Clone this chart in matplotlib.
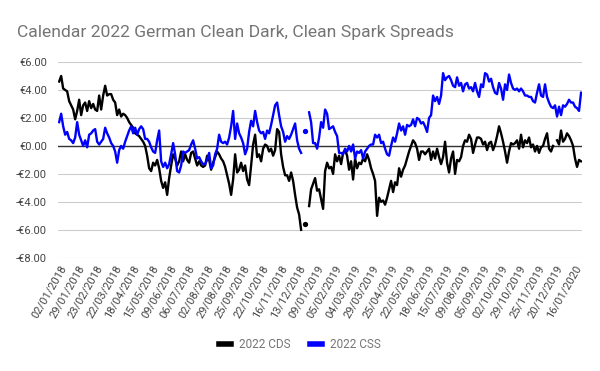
import numpy as np
import matplotlib
matplotlib.use('Agg')
import matplotlib.pyplot as plt
from matplotlib.lines import Line2D

plt.rcParams['font.family'] = ['Roboto', 'DejaVu Sans']

nan = np.nan

# trading-day axis: 540 days, a label every 19 days
n_days = 540
tick_step = 19
tick_labels = ['02/01/2018', '29/01/2018', '23/02/2018', '22/03/2018', '18/04/2018',
               '15/05/2018', '09/06/2018', '06/07/2018', '02/08/2018', '29/08/2018',
               '25/09/2018', '22/10/2018', '16/11/2018', '13/12/2018', '09/01/2019',
               '05/02/2019', '04/03/2019', '29/03/2019', '25/04/2019', '22/05/2019',
               '18/06/2019', '15/07/2019', '09/08/2019', '05/09/2019', '02/10/2019',
               '29/10/2019', '25/11/2019', '20/12/2019', '16/01/2020']

# 2022 clean dark spread (EUR/MWh), sampled about every 2 trading days
cds = [4.6, 5.0, 4.1, 4.0, 3.9, 3.2, 2.9, 2.6, 1.9, 2.5, 3.3, 2.2, 2.9, 3.1, 2.5, 3.2,
       2.7, 3.0, 2.6, 2.5, 3.6, 2.6, 3.6, 4.3, 3.6, 3.7, 3.7, 3.3, 3.1, 2.2, 2.6, 2.1,
       2.3, 2.2, 2.0, 1.7, 1.5, 1.3, 0.9, 0.8, 0.7, 0.5, 0.3, 0.0, -0.7, -1.6,
       -1.8, -1.2, -1.4, -1.0, -1.6, -2.5, -3.0, -2.6, -3.5, -2.3, -1.4, -0.6, -0.9, -1.4, -1.1,
       -0.4, -1.1, -0.6, -1.0, -1.2, -0.5, -0.4, -0.9, -1.4, -1.1, -1.4, -1.5, -1.4, -0.7, -1.0,
       -1.7, -1.2, -0.8, -0.4, -0.6, -0.9, -1.1, -1.5, -2.1, -2.7, -3.5, -2.4, -0.6, -1.9, -1.7,
       -1.2, -1.8, -1.4, -2.4, -2.8, -1.4, 0.1, 0.8, -0.8, -0.6, -1.1, -0.2, 0.1, 0.0, -0.4,
       -0.2, -0.7, -0.3, 1.2, 1.0, -0.6, -1.5, -2.1, -2.1, -2.5, -1.9, -2.5, -3.5, -4.4, -4.9,
       -6.0, nan, -5.6, nan, -4.3, -3.1, -2.7, -2.3, -3.2, -3.1, -3.8, -4.5, -1.8, -1.2, -1.6,
       -1.5, -2.0, -0.6, -1.1, -0.7, -1.3, -0.5, -0.3, -0.7, -1.7, -1.1, -2.4, -0.9, -1.6, -1.2,
       -1.3, -0.9, -1.1, -0.6, -1.0, -1.6, -2.0, -2.5, -5.0, -3.7, -4.0, -3.9, -4.2, -3.7, -3.1,
       -2.5, -3.3, -2.6, -2.8, -1.6, -2.2, -1.7, -1.4, -0.9, -0.4, 0.0, 0.4, 0.2, -0.2, -1.0,
       -0.4, -0.4, -0.6, -0.4, -0.2, -1.0, -0.4, -0.9, -0.2, -0.8, -1.3, -0.8, 0.3, -1.2, -1.9,
       -0.9, -0.4, -2.0, -1.0, -1.1, -0.8, 0.0, 0.4, 0.3, 0.8, 0.5, -0.5, 0.1, 0.6, 0.6,
       0.5, 0.1, 0.3, -0.3, 0.2, 0.3, -0.3, 0.1, 0.7, 1.4, 0.9, 0.3, -0.4, -1.2, -0.4,
       0.2, 0.1, 0.2, 0.4, -0.2, 0.8, -0.1, 0.4, 0.2, 0.6, -0.1, 0.1, -0.4, 0.0, -0.5,
       -0.1, 0.0, 0.5, 0.9, -0.2, -0.4, 0.0, nan, 0.4, 0.1, 1.1, 0.3, 0.5, 0.9, 0.7,
       0.4, 0.0, -0.9, -1.5, -1.0, -1.1]

# 2022 clean spark spread (EUR/MWh)
css = [1.7, 2.3, 1.4, 0.8, 1.0, 0.5, 0.4, 0.2, 0.6, 1.7, 0.8, 0.4, 0.0, 0.4, -0.1, 0.8,
       0.9, 1.1, 1.2, 0.3, 0.1, 0.3, 0.5, 1.3, 0.9, 0.6, 0.2, 0.0, -0.4, -1.2, -0.3, 0.0,
       -0.2, 0.3, 0.7, 1.1, 1.4, 0.9, 1.3, 0.8, 1.2, 1.4, 1.2, 0.5, 0.5, 0.3,
       -0.1, -0.4, -0.5, 0.4, 1.1, -1.1, -1.5, -1.2, -1.6, -1.3, -0.6, 0.2, -0.6, -1.8, -1.9,
       -1.4, -0.4, -0.5, -0.4, -0.3, 0.1, 0.4, -0.2, -0.9, -0.8, -1.1, -1.3, -1.3, -1.0, -0.5,
       -1.6, -1.4, -0.6, -0.2, 0.8, 0.3, 0.2, 0.3, 0.1, 0.6, 1.4, 2.5, 0.5, 1.6, 0.9,
       0.6, 0.2, -0.6, -0.2, 1.0, 1.8, 1.4, 2.5, 1.7, 1.1, 0.9, 1.0, 0.5, 1.1, 0.9,
       1.5, 2.2, 2.9, 3.1, 2.2, 1.4, 1.0, 0.3, 0.7, 0.5, 0.8, 1.2, 1.6, 0.4, -0.2,
       -0.5, nan, 1.1, nan, 2.4, 1.7, 0.2, 0.2, -0.2, 0.6, 1.7, 1.3, 2.6, 2.3, 1.2,
       1.3, 1.4, 1.0, 0.7, -0.5, -0.5, -0.6, -0.2, -0.4, 0.0, -0.4, 0.1, -0.9, -0.4, -0.5,
       -0.3, -0.9, -0.4, -0.2, 0.0, 0.1, 0.1, 0.8, 0.6, 0.8, 0.2, 0.3, -0.2, -0.6, -0.7,
       0.0, 0.6, 0.3, 0.9, 1.6, 1.1, 1.4, 0.8, 1.5, 1.4, 1.5, 1.9, 1.4, 2.0, 1.9,
       1.6, 1.7, 1.4, 1.0, 2.0, 2.2, 3.6, 3.2, 3.5, 3.0, 3.6, 5.2, 4.7, 4.9, 5.0,
       4.7, 4.3, 4.2, 4.9, 4.3, 4.5, 3.9, 4.4, 4.5, 4.1, 4.2, 3.9, 4.5, 3.9, 3.5,
       4.4, 4.2, 5.2, 5.1, 4.6, 4.8, 4.2, 3.8, 3.7, 4.5, 4.1, 3.3, 4.4, 4.0, 5.1,
       4.5, 4.1, 4.0, 4.1, 3.9, 4.1, 3.9, 3.6, 3.6, 3.5, 3.5, 3.2, 3.1, 3.8, 4.4,
       3.6, 3.5, 4.4, 3.5, 3.1, 2.8, 2.7, 2.9, 2.1, 2.8, 2.2, 2.9, 2.8, 3.0, 3.3,
       3.1, 3.1, 2.8, 2.7, 2.5, 3.8]

series = [('2022 CDS', cds, '#000000'), ('2022 CSS', css, '#0000ff')]

fig = plt.figure(figsize=(6, 3.71), dpi=100)
ax = fig.add_axes([0.097, 0.305, 0.873, 0.528])

for name, vals, col in series:
    y = np.array(vals, dtype=float)
    x = np.linspace(0, n_days - 1, len(y))
    ax.plot(x, y, color=col, lw=1.7, solid_joinstyle='round')
    # single points between gaps get a dot
    prev = np.r_[np.nan, y[:-1]]
    nxt = np.r_[y[1:], np.nan]
    lone = ~np.isnan(y) & np.isnan(prev) & np.isnan(nxt)
    ax.plot(x[lone], y[lone], 'o', color=col, ms=2.8)

ax.axhline(0, color='#333333', lw=1.0, zorder=1)

ax.set_ylim(-8, 6)
ax.set_xlim(-1, n_days)
yt = np.arange(-8, 7, 2)
ax.set_yticks(yt)
ax.set_yticklabels([('-€%.2f' % -v) if v < 0 else ('€%.2f' % v) for v in yt])
ax.grid(True, axis='y', color='#cccccc', lw=0.8)
ax.set_axisbelow(True)

ax.set_xticks(np.arange(len(tick_labels)) * tick_step)
ax.set_xticklabels(tick_labels, rotation=60, ha='right', va='top', rotation_mode='anchor')

ax.tick_params(axis='y', length=0, pad=8, labelsize=8, labelcolor='#444444')
ax.tick_params(axis='x', length=0, pad=4, labelsize=8, labelcolor='#444444')
for s in ax.spines.values():
    s.set_visible(False)

fig.text(17 / 600, 1 - 32 / 371, 'Calendar 2022 German Clean Dark, Clean Spark Spreads',
         fontsize=12.6, color='#757575', va='center', ha='left')

handles = [Line2D([], [], color=c, lw=4) for _, _, c in series]
fig.legend(handles, [n for n, _, _ in series], loc='center', bbox_to_anchor=(0.5, 1 - 345 / 371),
           ncol=2, frameon=False, fontsize=8.5, labelcolor='#757575', handlelength=1.0,
           handletextpad=0.7, columnspacing=1.6)

fig.savefig('out.png', dpi=100)
